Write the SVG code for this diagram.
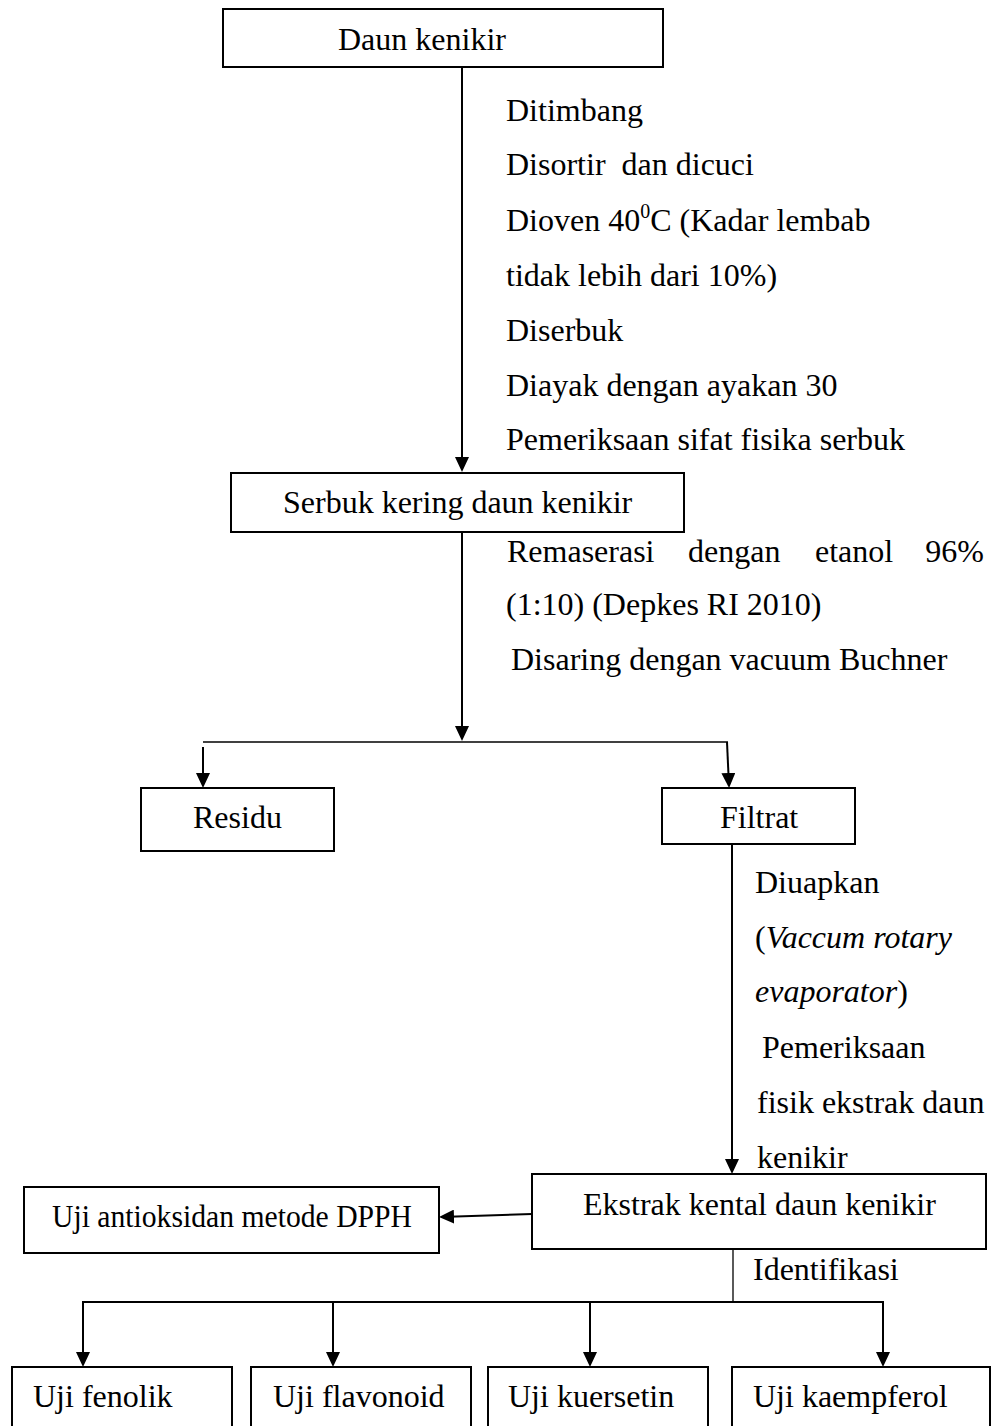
<svg xmlns="http://www.w3.org/2000/svg" width="996" height="1426" viewBox="0 0 996 1426">
<style>
  .box { fill: #fff; stroke: #000; stroke-width: 2; }
  .t { font-family: "Liberation Serif", "Times New Roman", serif; font-size: 32px; fill: #000; }
  .i { font-style: italic; }
  .c { fill: none; stroke: #000; stroke-width: 2; }
  .thin { fill: none; stroke: #000; stroke-width: 1.3; }
</style>
<defs>
  <marker id="ah" viewBox="0 0 15 14" markerWidth="15" markerHeight="14" refX="13" refY="7" orient="auto" markerUnits="userSpaceOnUse">
    <path d="M0,0 L15,7 L0,14 Z" fill="#000"/>
  </marker>
</defs>
<rect width="996" height="1426" fill="#fff"/>

<g id="connectors">
  <line class="c" x1="462" y1="67" x2="462" y2="470" marker-end="url(#ah)"/>
  <line class="c" x1="462" y1="532" x2="462" y2="739" marker-end="url(#ah)"/>
  <line class="thin" x1="203" y1="742" x2="728" y2="742"/>
  <line class="c" x1="203" y1="747" x2="203" y2="786" marker-end="url(#ah)"/>
  <line class="c" x1="727" y1="742" x2="729" y2="786" marker-end="url(#ah)"/>
  <line class="c" x1="732" y1="844" x2="732" y2="1172" marker-end="url(#ah)"/>
  <line class="c" x1="532" y1="1214" x2="441" y2="1217" marker-end="url(#ah)"/>
  <line class="thin" x1="733" y1="1249" x2="733" y2="1302"/>
  <line class="c" x1="82" y1="1302" x2="884" y2="1302"/>
  <line class="c" x1="83" y1="1302" x2="83" y2="1365" marker-end="url(#ah)"/>
  <line class="c" x1="333" y1="1302" x2="333" y2="1365" marker-end="url(#ah)"/>
  <line class="c" x1="590" y1="1302" x2="590" y2="1365" marker-end="url(#ah)"/>
  <line class="c" x1="883" y1="1302" x2="883" y2="1365" marker-end="url(#ah)"/>
</g>

<g id="labels">
  <text class="t" x="506" y="121">Ditimbang</text>
  <text class="t" x="506" y="175" xml:space="preserve">Disortir  dan dicuci</text>
  <text class="t" x="506" y="231">Dioven 40<tspan font-size="20" dy="-13">0</tspan><tspan dy="13">C (Kadar lembab</tspan></text>
  <text class="t" x="506" y="286">tidak lebih dari 10%)</text>
  <text class="t" x="506" y="341">Diserbuk</text>
  <text class="t" x="506" y="396">Diayak dengan ayakan 30</text>
  <text class="t" x="506" y="450">Pemeriksaan sifat fisika serbuk</text>
  <text class="t" y="562"><tspan x="507">Remaserasi</tspan><tspan x="688">dengan</tspan><tspan x="815">etanol</tspan></text>
  <text class="t" x="984" y="562" text-anchor="end">96%</text>
  <text class="t" x="506" y="615">(1:10) (Depkes RI 2010)</text>
  <text class="t" x="511" y="670">Disaring dengan vacuum Buchner</text>
  <text class="t" x="755" y="893">Diuapkan</text>
  <text class="t" x="755" y="948">(<tspan class="i">Vaccum rotary</tspan></text>
  <text class="t" x="755" y="1002"><tspan class="i">evaporator</tspan>)</text>
  <text class="t" x="762" y="1058">Pemeriksaan</text>
  <text class="t" x="757" y="1113">fisik ekstrak daun</text>
  <text class="t" x="757" y="1168">kenikir</text>
  <text class="t" x="753" y="1280">Identifikasi</text>
</g>

<g id="node-daun">
  <rect class="box" x="223" y="9" width="440" height="58"/>
  <text class="t" x="338" y="50">Daun kenikir</text>
</g>
<g id="node-serbuk">
  <rect class="box" x="231" y="473" width="453" height="59"/>
  <text class="t" x="283" y="513">Serbuk kering daun kenikir</text>
</g>
<g id="node-residu">
  <rect class="box" x="141" y="788" width="193" height="63"/>
  <text class="t" x="193" y="828">Residu</text>
</g>
<g id="node-filtrat">
  <rect class="box" x="662" y="788" width="193" height="56"/>
  <text class="t" x="720" y="828">Filtrat</text>
</g>
<g id="node-ekstrak">
  <rect class="box" x="532" y="1174" width="454" height="75"/>
  <text class="t" x="583" y="1215">Ekstrak kental daun kenikir</text>
</g>
<g id="node-dpph">
  <rect class="box" x="24" y="1187" width="415" height="66"/>
  <text class="t" x="52" y="1227" font-size="30" textLength="360" lengthAdjust="spacingAndGlyphs">Uji antioksidan metode DPPH</text>
</g>
<g id="node-fenolik">
  <rect class="box" x="12" y="1367" width="220" height="80"/>
  <text class="t" x="33" y="1407">Uji fenolik</text>
</g>
<g id="node-flavonoid">
  <rect class="box" x="251" y="1367" width="220" height="80"/>
  <text class="t" x="273" y="1407">Uji flavonoid</text>
</g>
<g id="node-kuersetin">
  <rect class="box" x="488" y="1367" width="220" height="80"/>
  <text class="t" x="508" y="1407">Uji kuersetin</text>
</g>
<g id="node-kaempferol">
  <rect class="box" x="732" y="1367" width="258" height="80"/>
  <text class="t" x="753" y="1407">Uji kaempferol</text>
</g>
</svg>
